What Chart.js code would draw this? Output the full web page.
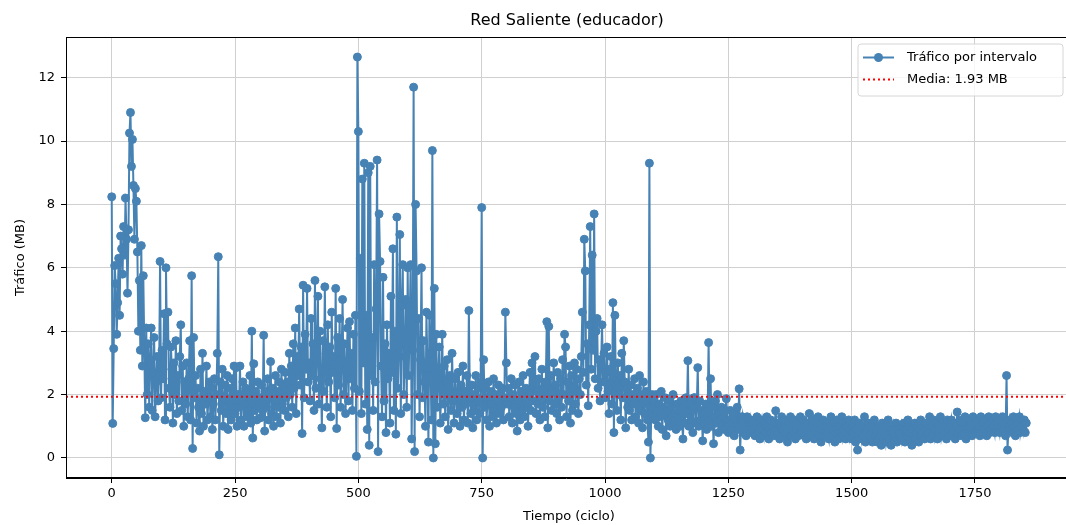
<!DOCTYPE html>
<html>
<head>
<meta charset="utf-8">
<script src="https://cdn.jsdelivr.net/npm/chart.js@4.4.0/dist/chart.umd.min.js"></script>
<style>
  html, body { margin: 0; padding: 0; background: #fff; overflow: hidden; }
</style>
</head>
<body>
<canvas id="grafico" width="1066" height="525"></canvas>
<script>
// trafico (MB), una muestra cada 2 ciclos desde el ciclo 0
const paso = 2;
const trafico = [
  8.24, 1.09, 3.45, 6.07, 5.5, 3.9, 4.9, 6.3, 4.5, 7.0, 6.6, 5.8, 7.3, 6.4, 8.2, 6.9, 5.2, 7.2, 10.25, 10.9, 9.2, 10.05, 8.6, 6.9, 8.5,
  8.1, 6.5, 4.0, 5.6, 3.4, 6.7, 2.9, 5.75, 3.5, 1.27, 4.1, 2.0, 3.6, 1.6, 3.1, 4.1, 1.5, 2.7, 3.8, 1.3, 2.4, 3.2, 1.8, 2.6, 6.2,
  1.9, 3.4, 2.5, 4.55, 1.2, 6.0, 3.6, 4.6, 2.2, 1.6, 3.5, 2.8, 1.1, 3.0, 2.0, 3.7, 1.4, 2.6, 1.8, 3.2, 4.2, 1.5, 2.9, 1.0, 2.4,
  1.7, 3.0, 1.3, 2.5, 3.7, 1.2, 5.75, 0.3, 3.8, 1.9, 2.6, 1.1, 2.2, 1.6, 0.85, 2.8, 1.4, 3.3, 1.0, 2.1, 1.7, 2.9, 1.2, 1.9, 2.4,
  1.3, 2.2, 0.9, 1.7, 2.5, 1.2, 2.0, 3.3, 6.35, 0.1, 2.4, 1.5, 2.8, 1.0, 1.9, 2.3, 1.4, 2.6, 0.9, 1.8, 2.2, 1.2, 2.5, 1.6, 2.9,
  1.4, 2.85, 1.0, 2.0, 1.6, 2.9, 1.2, 1.8, 2.4, 1.0, 1.7, 2.2, 1.3, 2.0, 1.5, 2.6, 1.1, 4.0, 0.63, 2.97, 1.5, 2.1, 1.2, 2.4, 1.6,
  1.9, 1.27, 2.3, 1.5, 3.87, 0.85, 2.1, 1.6, 2.5, 1.2, 2.0, 3.04, 1.4, 2.2, 1.0, 1.8, 2.6, 1.3, 2.1, 1.6, 2.4, 1.1, 2.8, 1.7, 2.3,
  1.5, 2.7, 1.9, 2.4, 1.3, 3.3, 2.0, 2.9, 1.6, 3.6, 2.2, 4.1, 1.4, 3.2, 2.6, 4.7, 2.3, 3.5, 0.77, 5.45, 1.9, 3.9, 2.8, 5.35, 2.4,
  3.0, 1.8, 4.4, 2.6, 3.6, 1.5, 5.6, 2.2, 3.3, 5.1, 1.7, 4.0, 2.5, 0.95, 3.7, 2.1, 5.4, 2.8, 1.6, 4.2, 2.4, 3.5, 1.3, 4.6, 2.7,
  3.2, 1.9, 5.35, 0.93, 3.8, 2.3, 4.4, 1.6, 3.1, 5.0, 2.0, 3.6, 1.4, 2.8, 4.1, 1.8, 4.3, 2.5, 3.3, 1.5, 3.9, 2.2, 4.5, 0.05, 12.65,
  10.3, 2.1, 6.3, 1.4, 8.8, 3.0, 9.3, 1.7, 4.5, 0.9, 9.0, 0.4, 9.2, 2.6, 3.8, 1.5, 6.1, 2.4, 4.7, 9.4, 0.2, 7.7, 6.2, 2.9, 1.3,
  5.7, 1.8, 3.6, 0.8, 4.2, 2.5, 3.3, 1.1, 5.1, 2.7, 6.6, 1.5, 4.0, 0.75, 7.6, 2.2, 3.5, 7.05, 1.4, 4.8, 6.1, 2.0, 3.2, 5.0, 1.6,
  6.0, 2.6, 4.3, 6.1, 0.6, 3.4, 11.7, 0.2, 8.0, 5.9, 2.0, 4.4, 1.3, 3.1, 6.0, 1.9, 3.7, 2.4, 1.0, 4.6, 2.8, 0.5, 4.5, 3.3, 1.2,
  9.7, 0.0, 5.35, 0.45, 3.9, 1.6, 2.5, 3.5, 1.1, 2.2, 3.9, 1.7, 2.9, 1.3, 2.4, 3.1, 0.9, 2.0, 2.6, 1.5, 3.3, 1.8, 1.1, 2.5, 2.0,
  1.4, 2.7, 1.9, 1.0, 2.3, 1.6, 2.9, 1.2, 2.1, 1.7, 2.6, 1.1, 4.65, 1.9, 1.4, 2.3, 0.95, 2.0, 1.5, 2.6, 1.2, 2.2, 1.8, 1.4, 2.4,
  7.9, 0.0, 3.1, 1.6, 2.2, 1.2, 1.9, 2.4, 1.0, 1.7, 2.1, 1.3, 2.5, 1.5, 2.0, 1.1, 1.8, 2.3, 1.4, 2.0, 1.6, 2.2, 1.2, 1.9, 4.6,
  3.0, 1.7, 2.2, 1.3, 1.9, 2.5, 1.1, 2.0, 1.6, 2.3, 1.4, 0.85, 1.8, 2.4, 1.2, 2.1, 1.5, 2.6, 1.3, 1.9, 2.2, 1.6, 1.0, 2.0, 2.7,
  1.5, 3.0, 1.8, 2.3, 3.2, 1.4, 2.1, 1.7, 2.5, 1.2, 2.0, 2.8, 1.6, 2.2, 1.3, 2.4, 4.3, 0.95, 4.15, 1.8, 2.6, 1.5, 2.1, 3.0, 1.7,
  2.3, 1.4, 2.7, 1.9, 1.2, 2.5, 1.6, 3.1, 2.0, 3.9, 3.5, 1.3, 2.4, 1.8, 2.9, 1.1, 2.6, 1.5, 2.2, 3.0, 1.7, 2.8, 2.1, 1.4, 2.5,
  2.0, 3.2, 4.6, 2.7, 6.9, 5.9, 2.3, 3.6, 1.65, 4.2, 7.3, 2.8, 6.4, 3.4, 7.7, 2.5, 4.0, 4.4, 2.2, 3.1, 1.8, 2.9, 4.2, 2.4, 3.3,
  1.9, 2.7, 3.5, 2.1, 1.4, 2.8, 3.2, 1.7, 4.9, 0.8, 4.5, 2.3, 1.5, 3.0, 2.0, 2.6, 1.2, 3.3, 1.9, 3.7, 2.4, 0.95, 2.2, 1.6, 2.8,
  1.5, 2.3, 1.2, 2.0, 1.7, 2.5, 1.3, 1.9, 2.2, 1.1, 2.6, 1.5, 2.0, 0.95, 2.4, 1.4, 1.8, 2.1, 1.2, 0.5, 9.3, 0.0, 1.6, 2.0, 1.3,
  1.8, 1.2, 2.0, 1.5, 1.0, 1.7, 1.3, 2.1, 0.9, 1.6, 1.4, 1.9, 0.7, 1.5, 1.2, 1.8, 1.0, 1.6, 1.3, 2.0, 1.1, 1.4, 0.9, 1.7, 1.2,
  1.5, 1.0, 1.8, 1.3, 0.6, 1.6, 1.1, 1.9, 1.4, 3.07, 1.0, 1.7, 1.2, 1.5, 0.8, 1.9, 1.9, 1.1, 1.6, 2.85, 1.0, 1.8, 1.2, 1.5, 0.54,
  1.4, 1.1, 1.7, 0.9, 1.3, 3.64, 1.2, 2.5, 1.0, 1.6, 0.45, 1.3, 1.8, 1.1, 2.0, 0.8, 1.4, 1.2, 1.6, 1.0, 1.3, 0.9, 1.5, 1.87, 1.1,
  0.8, 1.2, 1.5, 0.9, 1.1, 1.4, 0.7, 1.2, 1.0, 1.6, 0.9, 2.18, 0.25, 1.1, 1.3, 0.8, 1.2, 1.0, 0.7, 1.3, 0.9, 1.1, 0.8, 1.2, 1.0,
  0.9, 1.2, 0.7, 1.0, 1.3, 0.8, 1.1, 0.6, 1.0, 1.2, 0.9, 0.7, 1.1, 0.8, 1.3, 1.0, 0.6, 0.9, 1.2, 0.8, 1.0, 0.7, 1.1, 1.49, 0.9,
  0.8, 1.1, 0.6, 1.0, 1.3, 0.9, 0.7, 1.2, 0.8, 1.0, 0.5, 1.1, 0.9, 1.3, 0.7, 1.0, 0.8, 1.2, 0.6, 0.9, 1.1, 0.7, 1.0, 1.3, 0.8,
  0.9, 1.2, 0.7, 1.0, 0.6, 1.1, 0.8, 1.4, 0.9, 0.7, 1.0, 1.2, 0.6, 0.9, 1.1, 0.8, 1.3, 0.7, 1.0, 0.5, 0.9, 1.2, 0.8, 1.0, 0.7,
  1.1, 0.8, 0.6, 1.0, 1.3, 0.7, 0.9, 1.1, 0.5, 0.8, 1.2, 0.9, 0.6, 1.0, 0.8, 1.3, 0.7, 0.9, 1.1, 0.6, 1.0, 0.8, 1.2, 0.7, 0.9,
  0.6, 1.0, 0.8, 1.2, 0.5, 0.9, 0.25, 0.7, 1.1, 0.8, 0.6, 1.0, 0.7, 1.3, 0.5, 0.9, 0.8, 1.1, 0.6, 0.7, 1.0, 0.5, 0.9, 1.2, 0.7,
  0.8, 0.5, 1.0, 0.7, 0.9, 0.4, 1.1, 0.6, 0.8, 1.0, 0.5, 0.7, 1.2, 0.6, 0.9, 0.4, 0.8, 1.0, 0.6, 0.7, 1.1, 0.5, 0.9, 0.7, 0.8,
  1.0, 0.6, 0.8, 1.1, 0.5, 0.9, 0.7, 1.2, 0.6, 0.8, 1.0, 0.4, 0.9, 0.7, 1.1, 0.6, 0.8, 1.0, 0.5, 0.9, 1.2, 0.7, 0.8, 1.0, 0.6,
  0.9, 1.1, 0.7, 0.8, 1.3, 0.6, 1.0, 0.8, 1.2, 0.7, 0.9, 1.1, 0.6, 1.0, 0.8, 1.3, 0.7, 0.9, 1.1, 0.8, 1.0, 0.6, 1.2, 0.9, 0.7,
  1.0, 1.2, 0.8, 0.9, 1.1, 0.6, 1.0, 1.45, 0.8, 0.9, 1.2, 0.7, 1.0, 1.1, 0.8, 1.3, 0.6, 0.9, 1.2, 0.8, 1.0, 1.1, 0.7, 1.3, 0.9,
  1.1, 0.8, 1.2, 0.9, 1.0, 0.7, 1.3, 1.0, 0.8, 1.1, 0.9, 1.2, 0.7, 1.0, 1.3, 0.8, 1.1, 0.9, 1.2, 1.0, 0.8, 1.3, 0.9, 1.1, 1.0,
  0.8, 1.2, 1.0, 1.3, 0.9, 1.1, 0.7, 2.6, 0.25, 1.0, 1.2, 0.9, 1.1, 0.8, 1.3, 1.0, 0.7, 1.2, 0.9, 1.1, 1.3, 0.8, 1.0, 1.2, 0.9,
  1.2, 0.8, 1.1
];
const media = 1.93;
const ticksX = [0, 250, 500, 750, 1000, 1250, 1500, 1750];
const ticksY = [0, 2, 4, 6, 8, 10, 12];
const limX = [-92.7, 1946.7];
const limY = [-0.6325, 13.2825];

const azul = '#4682b4';
const fuente = 'DejaVu Sans';

// puntos x = ciclo
const puntos = trafico.map((v, i) => ({ x: i * paso, y: v }));

// el area del grafico en la imagen termina fuera del lienzo (x = 1072)
const area = { left: 66, top: 37, right: 1072, bottom: 478 };

const fijarArea = {
  id: 'fijarArea',
  afterLayout(chart) {
    const a = chart.chartArea;
    Object.assign(a, area);
    a.width = area.right - area.left;
    a.height = area.bottom - area.top;
    const x = chart.scales.x;
    x.left = area.left; x.right = area.right; x.width = a.width;
    x.configure();
    const y = chart.scales.y;
    y.top = area.top; y.bottom = area.bottom; y.height = a.height;
    y.configure();
  }
};

// titulo, marco y leyenda dibujados a mano (estilo matplotlib)
const extras = {
  id: 'extras',
  afterDraw(chart) {
    const ctx = chart.ctx;
    const a = chart.chartArea;
    ctx.save();
    // marco
    ctx.strokeStyle = '#000';
    ctx.lineWidth = 1;
    ctx.strokeRect(a.left + 0.5, a.top + 0.5, a.right - a.left - 1, a.bottom - a.top - 1);
    // titulo
    ctx.fillStyle = '#000';
    ctx.font = '16px "' + fuente + '"';
    ctx.textAlign = 'center';
    ctx.textBaseline = 'middle';
    ctx.fillText('Red Saliente (educador)', 567, 21);
    // leyenda
    const bx = 858, by = 44, bw = 205, bh = 52, r = 3;
    ctx.beginPath();
    ctx.moveTo(bx + r, by);
    ctx.arcTo(bx + bw, by, bx + bw, by + bh, r);
    ctx.arcTo(bx + bw, by + bh, bx, by + bh, r);
    ctx.arcTo(bx, by + bh, bx, by, r);
    ctx.arcTo(bx, by, bx + bw, by, r);
    ctx.closePath();
    ctx.fillStyle = 'rgba(255,255,255,0.8)';
    ctx.fill();
    ctx.strokeStyle = '#d6d6d6';
    ctx.stroke();
    // fila 1
    ctx.strokeStyle = azul;
    ctx.lineWidth = 2;
    ctx.beginPath();
    ctx.moveTo(863, 57.5);
    ctx.lineTo(894, 57.5);
    ctx.stroke();
    ctx.fillStyle = azul;
    ctx.beginPath();
    ctx.arc(878.5, 57.5, 4.5, 0, Math.PI * 2);
    ctx.fill();
    // fila 2
    ctx.strokeStyle = 'red';
    ctx.setLineDash([2, 3]);
    ctx.beginPath();
    ctx.moveTo(863, 79.5);
    ctx.lineTo(894, 79.5);
    ctx.stroke();
    ctx.setLineDash([]);
    ctx.fillStyle = '#000';
    ctx.font = '13px "' + fuente + '"';
    ctx.textAlign = 'left';
    ctx.fillText('Tráfico por intervalo', 907, 57.5);
    ctx.fillText('Media: ' + media.toFixed(2) + ' MB', 907, 79.5);
    ctx.restore();
  }
};

new Chart(document.getElementById('grafico'), {
  type: 'line',
  data: {
    datasets: [
      {
        label: 'Media: ' + media.toFixed(2) + ' MB',
        data: [{ x: limX[0], y: media }, { x: limX[1], y: media }],
        borderColor: 'red',
        borderWidth: 2,
        borderDash: [2, 3],
        pointRadius: 0,
        order: 0
      },
      {
        label: 'Tráfico por intervalo',
        data: puntos,
        borderColor: azul,
        backgroundColor: azul,
        borderWidth: 2,
        pointRadius: 4,
        pointBorderWidth: 1,
        pointBorderColor: azul,
        pointBackgroundColor: azul,
        tension: 0,
        order: 1
      }
    ]
  },
  options: {
    responsive: false,
    animation: false,
    devicePixelRatio: 1,
    layout: { padding: { left: 0, right: 0, top: 37, bottom: 0 } },
    plugins: {
      legend: { display: false },
      title: { display: false },
      tooltip: { enabled: false }
    },
    scales: {
      x: {
        type: 'linear',
        min: limX[0],
        max: limX[1],
        afterBuildTicks: s => { s.ticks = ticksX.map(v => ({ value: v })); },
        afterFit: s => { s.height = 47; },
        ticks: { color: '#000', font: { family: fuente, size: 13 }, padding: 3, maxRotation: 0, callback: v => String(v) },
        grid: { color: '#d0d0d0', lineWidth: 1, tickLength: 5, tickColor: '#000' },
        border: { color: '#000', width: 1 },
        title: { display: true, text: 'Tiempo (ciclo)', color: '#000', font: { family: fuente, size: 13 }, padding: { top: 0, bottom: 1 } }
      },
      y: {
        type: 'linear',
        min: limY[0],
        max: limY[1],
        afterBuildTicks: s => { s.ticks = ticksY.map(v => ({ value: v })); },
        afterFit: s => { s.width = 66; },
        ticks: { color: '#000', font: { family: fuente, size: 13 }, padding: 6, callback: v => String(v) },
        grid: { color: '#d0d0d0', lineWidth: 1, tickLength: 5, tickColor: '#000' },
        border: { color: '#000', width: 1 },
        title: { display: true, text: 'Tráfico (MB)', color: '#000', font: { family: fuente, size: 13 }, padding: { top: 13, bottom: 0 } }
      }
    }
  },
  plugins: [fijarArea, extras]
});
</script>
</body>
</html>
